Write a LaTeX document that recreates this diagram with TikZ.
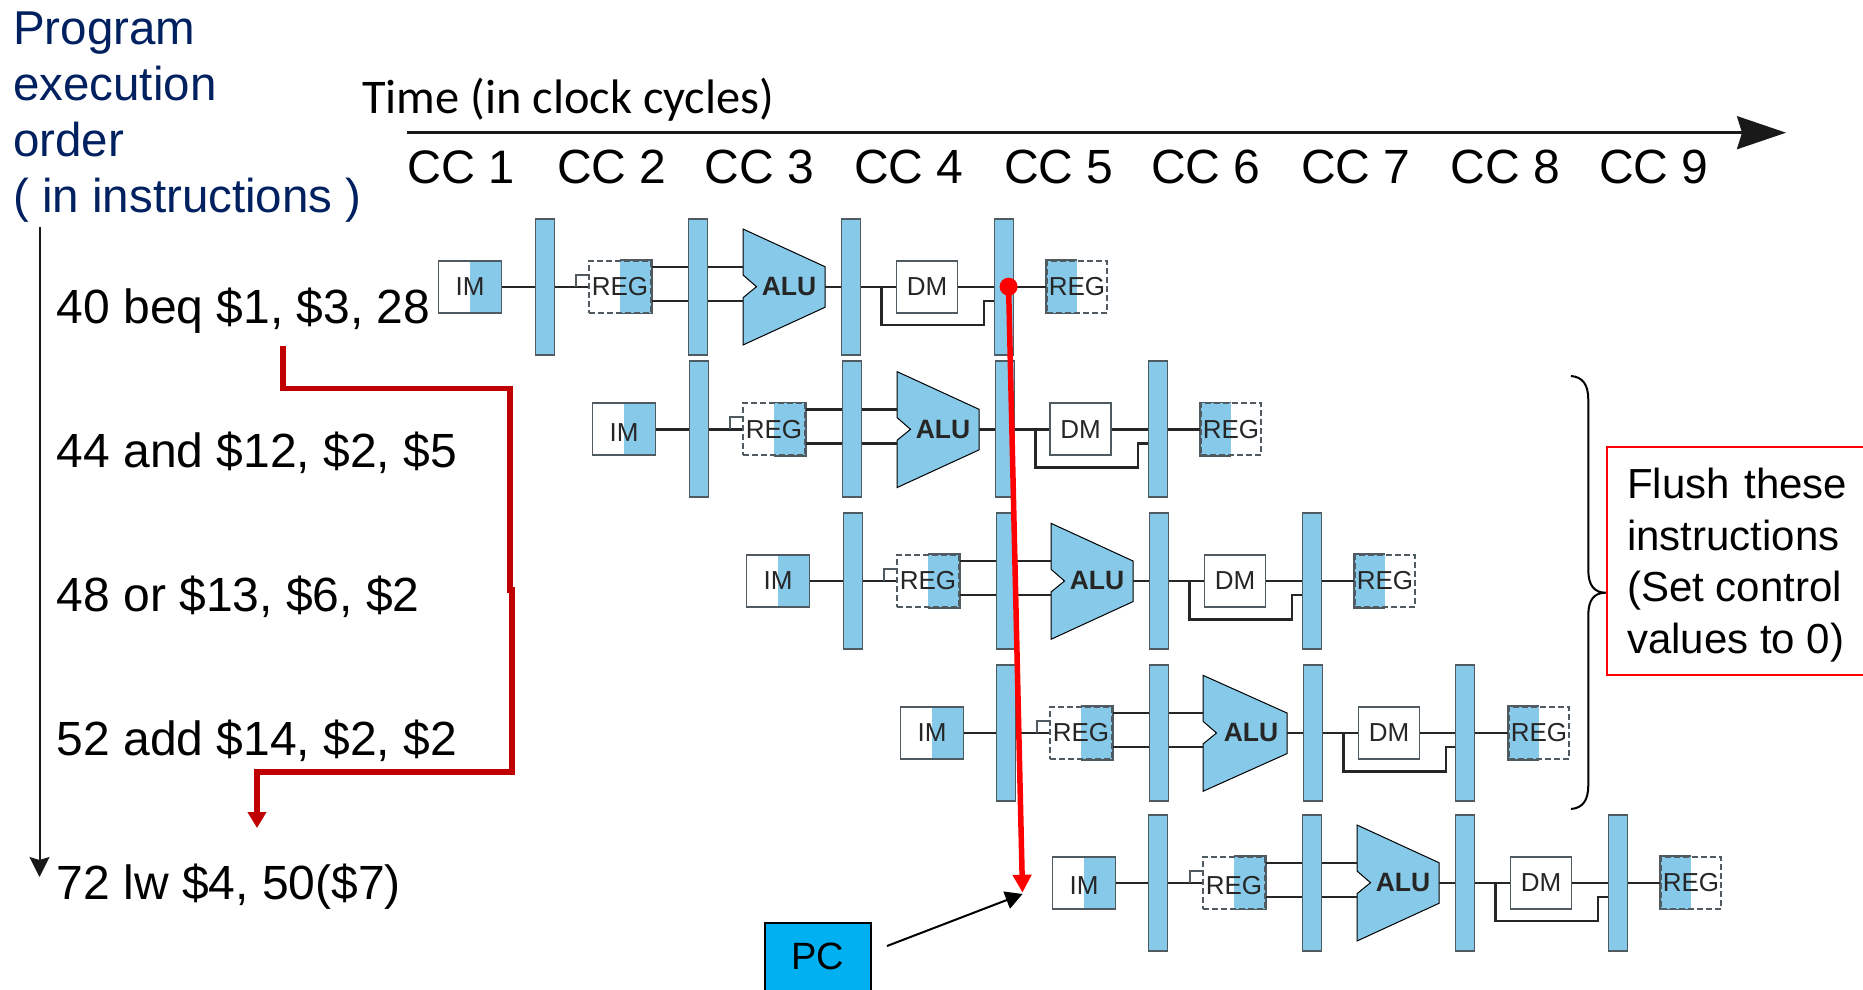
\documentclass[tikz,border=0pt]{standalone}
\usepackage{fontspec}
\setmainfont{Liberation Sans}
\newfontfamily\timeFont{Carlito}
\usetikzlibrary{arrows.meta}
\definecolor{pipeBlue}{HTML}{86C9E8}
\definecolor{pipeEdge}{HTML}{4F5B61}
\definecolor{progNavy}{HTML}{002060}
\definecolor{jumpRed}{HTML}{C00000}
\definecolor{pcCyan}{HTML}{00B0F0}
\begin{document}
\begin{tikzpicture}[x=1pt,y=-1pt,
wire/.style={draw=black!85,line width=2.4pt},
edgeLine/.style={draw=pipeEdge,line width=1.7pt},
pipeBar/.style={edgeLine,fill=pipeBlue,minimum width=19pt,minimum height=136pt,inner sep=0pt},
boxBase/.style={minimum height=52pt,inner sep=0pt,text=black!85,font=\fontsize{26}{30}\selectfont},
imBox/.style={boxBase,edgeLine,minimum width=63pt,path picture={\fill[pipeBlue] (path picture bounding box.north) rectangle (path picture bounding box.south east);}},
regRead/.style={boxBase,edgeLine,dash pattern=on 6pt off 3pt,minimum width=62pt,path picture={\fill[pipeBlue] (path picture bounding box.north) rectangle (path picture bounding box.south east);}},
regWrite/.style={boxBase,edgeLine,dash pattern=on 6pt off 3pt,minimum width=60pt,path picture={\fill[pipeBlue] (path picture bounding box.north) rectangle (path picture bounding box.south west);}},
dmBox/.style={boxBase,edgeLine,minimum width=61pt},
aluShape/.style={draw=black,line width=1pt,fill=pipeBlue},
aluLabel/.style={inner sep=0pt,text=black!85,font=\fontsize{26.5}{30}\selectfont\bfseries},
instLabel/.style={anchor=base west,inner sep=0pt,font=\fontsize{48}{56}\selectfont},
ccLabel/.style={anchor=base west,inner sep=0pt,font=\fontsize{48}{54}\selectfont}]
\path[use as bounding box] (0,0) rectangle (1863,990);
% headings
\node[anchor=north west,inner sep=0pt,align=left,text=progNavy,font=\fontsize{47.5}{56}\selectfont] (orderLabel) at (13,12) {Program\\execution\\order\\( in instructions )};
\node[anchor=base west,inner sep=0pt,font=\fontsize{48.4}{54}\selectfont\timeFont] (timeLabel) at (362,113.7) {Time (in clock cycles)};
\coordinate (timeStart) at (407,132.7);
\coordinate (timeEnd) at (1786,132.7);
\draw[line width=2.5pt,draw=black!90,-{Stealth[length=49pt,width=33pt,inset=5pt]}] (timeStart)--(timeEnd);
\coordinate (orderStart) at (39.5,227);
\coordinate (orderEnd) at (39.5,877);
\draw[line width=2pt,draw=black!90,-{Stealth[length=20pt,width=20pt,inset=3pt]}] (orderStart)--(orderEnd);
\node[ccLabel,font=\fontsize{47}{54}\selectfont] (ccOne) at (407.5,183.3) {CC 1};
\node[ccLabel] (ccTwo) at (557,183.3) {CC 2};
\node[ccLabel] (ccThree) at (704.5,183.3) {CC 3};
\node[ccLabel] (ccFour) at (854,183.3) {CC 4};
\node[ccLabel] (ccFive) at (1004,183.3) {CC 5};
\node[ccLabel] (ccSix) at (1151,183.3) {CC 6};
\node[ccLabel] (ccSeven) at (1301,183.3) {CC 7};
\node[ccLabel] (ccEight) at (1450.5,183.3) {CC 8};
\node[ccLabel] (ccNine) at (1599,183.3) {CC 9};
\node[instLabel] (instA) at (56.5,323.5) {40 beq \$1, \$3, 28};
\node[instLabel] (instB) at (56.5,467.5) {44 and \$12, \$2, \$5};
\node[instLabel] (instC) at (56.5,611.5) {48 or \$13, \$6, \$2};
\node[instLabel] (instD) at (56.5,755.5) {52 add \$14, \$2, \$2};
\node[instLabel] (instE) at (56.5,899.5) {72 lw \$4, 50(\$7)};
% row A: beq
\node[imBox] (imA) at (470,286.7) {IM};
\node[pipeBar] (barA1) at (545,286.7) {};
\node[regRead] (regA) at (620,286.7) {REG};
\node[pipeBar] (barA2) at (698,286.7) {};
\draw[aluShape] (743,229) coordinate (aluEdgeA)--(825,266.7)--(825,286.7) coordinate (aluOutA)--(825,307.3)--(743,345)--(743,297.7)--(756.5,286.7)--(743,275)--cycle;
\node[aluLabel] (aluA) at (789,286.7) {ALU};
\node[pipeBar] (barA3) at (851,286.7) {};
\node[dmBox] (dmA) at (927,286.7) {DM};
\node[pipeBar] (barA4) at (1004,286.7) {};
\node[regWrite] (wbA) at (1077,286.7) {REG};
\draw[edgeLine] (regA.north)--(regA.north east)--(regA.south east)--(regA.south);
\draw[edgeLine] (wbA.north)--(wbA.north west)--(wbA.south west)--(wbA.south);
\coordinate (upA) at (0,266.7);
\coordinate (downA) at (0,300.7);
\draw[wire] (imA)--(barA1);
\draw[wire] (barA1)--(regA);
\draw[edgeLine] (regA.west) ++(-12,0)--++(0,-12)--++(12,0);
\draw[wire] (regA.east |- upA)--(barA2.west |- upA) (barA2.east |- upA)--(aluEdgeA |- upA);
\draw[wire] (regA.east |- downA)--(barA2.west |- downA) (barA2.east |- downA)--(aluEdgeA |- downA);
\draw[wire] (aluOutA)--(barA3);
\draw[wire] (barA3)--(dmA);
\draw[wire] (dmA)--(barA4);
\draw[wire] (barA4)--(wbA);
\draw[wire] (barA3.east) ++(20,0) |- ++(102.5,38.3) |- (barA4.west |- downA);
% row B: and
\node[imBox] (imB) at (624,429.3) {\raisebox{-3pt}[\height][0pt]{IM}};
\node[pipeBar] (barB1) at (699,429.3) {};
\node[regRead] (regB) at (774,429.3) {REG};
\node[pipeBar] (barB2) at (852,429.3) {};
\draw[aluShape] (897,371.6) coordinate (aluEdgeB)--(979,409.3)--(979,429.3) coordinate (aluOutB)--(979,449.9)--(897,487.6)--(897,440.3)--(910.5,429.3)--(897,417.6)--cycle;
\node[aluLabel] (aluB) at (943,429.3) {ALU};
\node[pipeBar] (barB3) at (1005,429.3) {};
\node[dmBox] (dmB) at (1080.5,429.3) {DM};
\node[pipeBar] (barB4) at (1158,429.3) {};
\node[regWrite] (wbB) at (1231,429.3) {REG};
\draw[edgeLine] (regB.north)--(regB.north east)--(regB.south east)--(regB.south);
\draw[edgeLine] (wbB.north)--(wbB.north west)--(wbB.south west)--(wbB.south);
\coordinate (upB) at (0,409.3);
\coordinate (downB) at (0,443.3);
\draw[wire] (imB)--(barB1);
\draw[wire] (barB1)--(regB);
\draw[edgeLine] (regB.west) ++(-12,0)--++(0,-12)--++(12,0);
\draw[wire] (regB.east |- upB)--(barB2.west |- upB) (barB2.east |- upB)--(aluEdgeB |- upB);
\draw[wire] (regB.east |- downB)--(barB2.west |- downB) (barB2.east |- downB)--(aluEdgeB |- downB);
\draw[wire] (aluOutB)--(barB3);
\draw[wire] (barB3)--(dmB);
\draw[wire] (dmB)--(barB4);
\draw[wire] (barB4)--(wbB);
\draw[wire] (barB3.east) ++(20,0) |- ++(102.5,38.3) |- (barB4.west |- downB);
% row C: or
\node[imBox] (imC) at (778,581) {IM};
\node[pipeBar] (barC1) at (853,581) {};
\node[regRead] (regC) at (928,581) {REG};
\node[pipeBar] (barC2) at (1006,581) {};
\draw[aluShape] (1051,523.3) coordinate (aluEdgeC)--(1133,561)--(1133,581) coordinate (aluOutC)--(1133,601.6)--(1051,639.3)--(1051,592)--(1064.5,581)--(1051,569.3)--cycle;
\node[aluLabel] (aluC) at (1097,581) {ALU};
\node[pipeBar] (barC3) at (1159,581) {};
\node[dmBox] (dmC) at (1235,581) {DM};
\node[pipeBar] (barC4) at (1312,581) {};
\node[regWrite] (wbC) at (1385,581) {REG};
\draw[edgeLine] (regC.north)--(regC.north east)--(regC.south east)--(regC.south);
\draw[edgeLine] (wbC.north)--(wbC.north west)--(wbC.south west)--(wbC.south);
\coordinate (upC) at (0,561);
\coordinate (downC) at (0,595);
\draw[wire] (imC)--(barC1);
\draw[wire] (barC1)--(regC);
\draw[edgeLine] (regC.west) ++(-12,0)--++(0,-12)--++(12,0);
\draw[wire] (regC.east |- upC)--(barC2.west |- upC) (barC2.east |- upC)--(aluEdgeC |- upC);
\draw[wire] (regC.east |- downC)--(barC2.west |- downC) (barC2.east |- downC)--(aluEdgeC |- downC);
\draw[wire] (aluOutC)--(barC3);
\draw[wire] (barC3)--(dmC);
\draw[wire] (dmC)--(barC4);
\draw[wire] (barC4)--(wbC);
\draw[wire] (barC3.east) ++(20,0) |- ++(102.5,38.3) |- (barC4.west |- downC);
% row D: add
\node[imBox] (imD) at (932,733) {IM};
\node[pipeBar] (barD1) at (1006,733) {};
\node[regRead] (regD) at (1081,733) {REG};
\node[pipeBar] (barD2) at (1159,733) {};
\draw[aluShape] (1203,675.3) coordinate (aluEdgeD)--(1287,713)--(1287,733) coordinate (aluOutD)--(1287,753.6)--(1203,791.3)--(1203,744)--(1216.5,733)--(1203,721.3)--cycle;
\node[aluLabel] (aluD) at (1251,733) {ALU};
\node[pipeBar] (barD3) at (1313,733) {};
\node[dmBox] (dmD) at (1389,733) {DM};
\node[pipeBar] (barD4) at (1465,733) {};
\node[regWrite] (wbD) at (1539,733) {REG};
\draw[edgeLine] (regD.north)--(regD.north east)--(regD.south east)--(regD.south);
\draw[edgeLine] (wbD.north)--(wbD.north west)--(wbD.south west)--(wbD.south);
\coordinate (upD) at (0,713);
\coordinate (downD) at (0,747);
\draw[wire] (imD)--(barD1);
\draw[wire] (barD1)--(regD);
\draw[edgeLine] (regD.west) ++(-12,0)--++(0,-12)--++(12,0);
\draw[wire] (regD.east |- upD)--(barD2.west |- upD) (barD2.east |- upD)--(aluEdgeD |- upD);
\draw[wire] (regD.east |- downD)--(barD2.west |- downD) (barD2.east |- downD)--(aluEdgeD |- downD);
\draw[wire] (aluOutD)--(barD3);
\draw[wire] (barD3)--(dmD);
\draw[wire] (dmD)--(barD4);
\draw[wire] (barD4)--(wbD);
\draw[wire] (barD3.east) ++(20,0) |- ++(102.5,38.3) |- (barD4.west |- downD);
% row E: lw
\node[imBox] (imE) at (1084,882.7) {\raisebox{-2.5pt}[\height][0pt]{IM}};
\node[pipeBar] (barE1) at (1158,882.7) {};
\node[regRead] (regE) at (1234,882.7) {\raisebox{-2.5pt}[\height][0pt]{REG}};
\node[pipeBar] (barE2) at (1312,882.7) {};
\draw[aluShape] (1357,825) coordinate (aluEdgeE)--(1439,862.7)--(1439,882.7) coordinate (aluOutE)--(1439,903.3)--(1357,941)--(1357,893.7)--(1370.5,882.7)--(1357,871)--cycle;
\node[aluLabel] (aluE) at (1403,882.7) {ALU};
\node[pipeBar] (barE3) at (1465,882.7) {};
\node[dmBox] (dmE) at (1541,882.7) {DM};
\node[pipeBar] (barE4) at (1618,882.7) {};
\node[regWrite] (wbE) at (1691,882.7) {REG};
\draw[edgeLine] (regE.north)--(regE.north east)--(regE.south east)--(regE.south);
\draw[edgeLine] (wbE.north)--(wbE.north west)--(wbE.south west)--(wbE.south);
\coordinate (upE) at (0,862.7);
\coordinate (downE) at (0,896.7);
\draw[wire] (imE)--(barE1);
\draw[wire] (barE1)--(regE);
\draw[edgeLine] (regE.west) ++(-12,0)--++(0,-12)--++(12,0);
\draw[wire] (regE.east |- upE)--(barE2.west |- upE) (barE2.east |- upE)--(aluEdgeE |- upE);
\draw[wire] (regE.east |- downE)--(barE2.west |- downE) (barE2.east |- downE)--(aluEdgeE |- downE);
\draw[wire] (aluOutE)--(barE3);
\draw[wire] (barE3)--(dmE);
\draw[wire] (dmE)--(barE4);
\draw[wire] (barE4)--(wbE);
\draw[wire] (barE3.east) ++(20,0) |- ++(102.5,38.3) |- (barE4.west |- downE);
% branch target jump
\coordinate (jumpStart) at (283,346);
\coordinate (jumpEnd) at (257,828);
\draw[draw=jumpRed,line width=5.5pt,-{Triangle[length=16pt,width=18pt]}] (jumpStart)|-(510,388.5)--(510,590)--(512,590)--(512,772)-|(jumpEnd);
% branch decided here
\node[circle,fill=red,minimum size=18pt,inner sep=0pt] (branchDot) at (1008.6,286.7) {};
\coordinate (branchTip) at (1022.5,892.7);
\draw[draw=red,line width=5.5pt,-{Triangle[length=18pt,width=18pt]}] (branchDot.center)--(branchTip);
% PC
\node[fill=pcCyan,minimum width=106pt,minimum height=67pt,inner sep=0pt,font=\fontsize{38}{46}\selectfont] (pcReg) at (818,956.4) {PC};
\draw[line width=2pt] (pcReg.south west)|-(pcReg.north east)--(pcReg.south east);
\coordinate (pcTail) at (887,946);
\coordinate (pcTip) at (1022.5,894);
\draw[line width=2pt,-{Triangle[length=17pt,width=18pt]}] (pcTail)--(pcTip);
% flush note
\draw[line width=2pt] (1571,376) .. controls (1583,377) and (1588.3,385) .. (1588.3,400)--(1588.3,570) .. controls (1588.3,585) and (1594,592.7) .. (1605.7,592.7) .. controls (1594,592.7) and (1588.3,600) .. (1588.3,615)--(1588.3,785) .. controls (1588.3,800) and (1583,808) .. (1571,809);
\draw[draw=red,line width=2pt] (1863,446.7)--(1606.7,446.7)--(1606.7,675)--(1863,675);
\node[anchor=north west,inner sep=0pt,align=left,font=\fontsize{42}{51.5}\selectfont] (flushNote) at (1627,468) {Flush\hspace{3pt} these\\instructions\\(Set control\\values to 0)};
\end{tikzpicture}
\end{document}
